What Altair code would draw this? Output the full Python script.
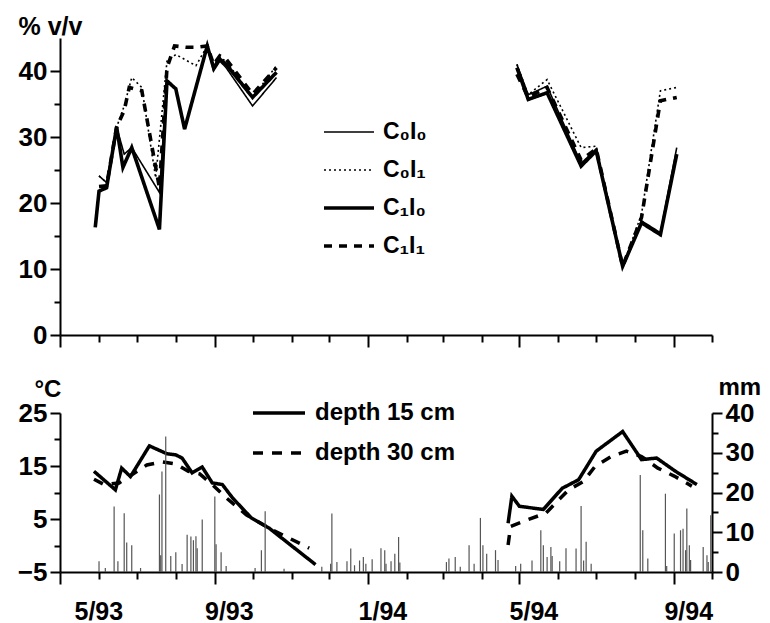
import altair as alt
import pandas as pd

FONT = "Liberation Sans"

SERIES = ["C₀I₀", "C₀I₁", "C₁I₀", "C₁I₁"]
THICK = ["C₁I₀", "C₁I₁"]

# ---- soil water content (% v/v), season 1993 ----
c0i0_93_dates = ["1993-06-01", "1993-06-07", "1993-06-15", "1993-06-21", "1993-06-27", "1993-07-19",
                 "1993-07-25", "1993-08-01", "1993-08-08", "1993-08-26", "1993-08-31", "1993-09-05",
                 "1993-09-10", "1993-10-01", "1993-10-20"]
c0i0_93_vals = [24.1, 23.1, 31.5, 27.4, 28.4, 21.6, 38.5, 37.3, 31.2, 43.8, 40.0, 41.5, 40.5, 34.7, 39.0]

c0i1_93_dates = ["1993-06-01", "1993-06-07", "1993-06-15", "1993-06-21", "1993-06-27", "1993-07-05",
                 "1993-07-16", "1993-07-25", "1993-08-01", "1993-08-17", "1993-08-26", "1993-08-31",
                 "1993-09-05", "1993-09-10", "1993-10-01", "1993-10-20"]
c0i1_93_vals = [24.1, 23.1, 31.5, 34.7, 39.0, 37.5, 23.8, 41.5, 42.5, 40.8, 43.8, 41.0, 42.0, 41.5, 36.0, 40.8]

c1i0_93_dates = ["1993-05-29", "1993-06-01", "1993-06-07", "1993-06-15", "1993-06-20", "1993-06-27",
                 "1993-07-19", "1993-07-25", "1993-08-01", "1993-08-08", "1993-08-26", "1993-08-31",
                 "1993-09-05", "1993-09-10", "1993-10-01", "1993-10-20"]
c1i0_93_vals = [16.3, 21.8, 22.3, 31.5, 25.4, 28.4, 16.0, 38.5, 37.3, 31.2, 43.8, 40.5, 41.8, 41.0, 36.0, 39.8]

c1i1_93_dates = ["1993-06-01", "1993-06-07", "1993-06-15", "1993-06-21", "1993-06-25", "1993-07-05",
                 "1993-07-19", "1993-07-25", "1993-07-31", "1993-08-09", "1993-08-18", "1993-08-26",
                 "1993-08-31", "1993-09-05", "1993-09-10", "1993-10-01", "1993-10-20"]
c1i1_93_vals = [22.5, 22.6, 31.5, 34.0, 37.5, 37.0, 22.3, 40.5, 43.8, 43.6, 43.6, 43.8, 41.0, 42.3, 41.8, 36.5, 40.5]

# ---- soil water content (% v/v), season 1994 ----
swc_94_dates = ["1994-04-29", "1994-05-08", "1994-05-23", "1994-06-19", "1994-07-01", "1994-07-22",
                "1994-08-06", "1994-08-21", "1994-09-03"]
c0i0_94_vals = [41.0, 36.4, 37.7, 26.0, 28.2, 10.4, 17.3, 15.5, 28.4]
c0i1_94_vals = [41.0, 36.4, 38.7, 28.4, 28.6, 10.4, 18.3, 37.0, 37.5]
c1i0_94_vals = [40.5, 35.7, 36.7, 25.6, 27.9, 10.4, 17.0, 15.2, 27.4]
c1i1_94_vals = [39.5, 36.0, 37.5, 26.5, 28.2, 10.4, 17.8, 35.5, 36.0]

# ---- soil temperature (°C) ----
DEPTHS = ["depth 15 cm", "depth 30 cm"]
t15_93_dates = ["1993-05-28", "1993-06-14", "1993-06-19", "1993-06-26", "1993-07-11", "1993-07-25",
                "1993-08-01", "1993-08-06", "1993-08-14", "1993-08-22", "1993-08-30", "1993-09-07",
                "1993-09-15", "1993-09-30", "1993-10-14", "1993-11-20"]
t15_93_vals = [14.0, 10.5, 14.6, 13.0, 18.8, 17.3, 17.1, 16.5, 13.7, 14.8, 11.8, 11.5, 9.0, 5.2, 3.3, -3.6]
t30_93_dates = ["1993-05-28", "1993-06-05", "1993-06-17", "1993-07-09", "1993-07-21", "1993-08-01",
                "1993-08-11", "1993-08-20", "1993-08-30", "1993-09-10", "1993-09-26", "1993-10-16",
                "1993-10-30", "1993-11-15"]
t30_93_vals = [12.5, 11.5, 11.8, 15.2, 15.8, 15.4, 14.0, 13.5, 11.5, 9.0, 5.8, 3.0, 1.4, -0.5]
t15_94_dates = ["1994-04-22", "1994-04-25", "1994-05-01", "1994-05-20", "1994-06-04", "1994-06-17",
                "1994-07-01", "1994-07-22", "1994-08-06", "1994-08-18", "1994-09-02", "1994-09-19"]
t15_94_vals = [4.2, 9.3, 7.4, 6.8, 10.8, 12.4, 17.8, 21.5, 16.2, 16.5, 14.0, 11.5]
t30_94_dates = ["1994-04-22", "1994-04-24", "1994-05-08", "1994-05-22", "1994-06-09", "1994-06-21",
                "1994-06-30", "1994-07-13", "1994-07-25", "1994-08-06", "1994-08-19", "1994-09-01",
                "1994-09-15"]
t30_94_vals = [0.1, 3.6, 4.9, 6.1, 10.5, 12.1, 14.9, 16.8, 17.8, 16.8, 14.6, 13.1, 11.2]

# ---- daily precipitation (mm) ----
rain_dates = ["1993-06-01", "1993-06-06", "1993-06-13", "1993-06-16", "1993-06-21", "1993-06-23",
              "1993-06-27", "1993-07-04", "1993-07-19", "1993-07-20", "1993-07-21", "1993-07-24",
              "1993-07-28", "1993-08-01", "1993-08-06", "1993-08-10", "1993-08-13", "1993-08-15",
              "1993-08-17", "1993-08-18", "1993-08-22", "1993-09-01", "1993-09-02", "1993-09-06",
              "1993-09-10", "1993-10-03", "1993-10-08", "1993-10-11", "1993-10-26", "1993-11-25",
              "1993-12-02", "1993-12-03", "1993-12-07", "1993-12-15", "1993-12-18", "1993-12-21",
              "1993-12-25", "1993-12-28", "1993-12-30", "1994-01-04", "1994-01-11", "1994-01-14",
              "1994-01-15", "1994-01-19", "1994-01-22", "1994-01-25", "1994-01-26", "1994-03-04",
              "1994-03-06", "1994-03-11", "1994-03-15", "1994-03-22", "1994-03-26", "1994-03-31",
              "1994-04-02", "1994-04-05", "1994-04-12", "1994-04-14", "1994-04-28", "1994-05-02",
              "1994-05-11", "1994-05-18", "1994-05-20", "1994-05-23", "1994-05-26", "1994-05-27",
              "1994-06-02", "1994-06-07", "1994-06-15", "1994-06-19", "1994-06-21", "1994-06-23",
              "1994-06-27", "1994-08-05", "1994-08-07", "1994-08-11", "1994-08-25", "1994-08-26",
              "1994-09-01", "1994-09-06", "1994-09-08", "1994-09-10", "1994-09-11", "1994-09-13",
              "1994-09-14", "1994-09-24", "1994-09-27", "1994-09-28", "1994-09-30"]
rain_mm = [2.7, 1.0, 16.5, 2.7, 14.8, 7.4, 6.7, 1.0, 19.5, 4.2, 25.3, 34.1,
           4.0, 5.0, 2.0, 9.4, 8.9, 8.0, 9.0, 6.0, 13.2, 19.0, 7.0, 5.0,
           1.5, 1.0, 5.5, 15.3, 0.8, 1.3, 2.1, 14.7, 2.5, 2.7, 5.9, 1.7,
           2.9, 3.8, 2.1, 3.2, 6.0, 5.5, 2.1, 2.7, 4.6, 8.8, 2.4, 2.5,
           3.4, 3.8, 1.3, 6.7, 2.1, 13.6, 6.7, 4.6, 5.5, 3.0, 1.5, 2.1,
           2.9, 10.5, 6.7, 3.8, 6.3, 4.0, 2.7, 6.0, 5.9, 16.6, 2.9, 7.6,
           2.1, 24.4, 10.5, 3.4, 19.7, 1.5, 9.7, 10.5, 10.9, 5.5, 16.0, 6.7,
           3.0, 6.3, 4.2, 2.5, 14.3]

# ---------------- tables ----------------
def rows(name, season, dates, vals):
    return [{"series": name, "season": season, "date": d, "value": v} for d, v in zip(dates, vals)]

swc = pd.DataFrame(
    rows(SERIES[0], "93", c0i0_93_dates, c0i0_93_vals)
    + rows(SERIES[1], "93", c0i1_93_dates, c0i1_93_vals)
    + rows(SERIES[2], "93", c1i0_93_dates, c1i0_93_vals)
    + rows(SERIES[3], "93", c1i1_93_dates, c1i1_93_vals)
    + rows(SERIES[0], "94", swc_94_dates, c0i0_94_vals)
    + rows(SERIES[1], "94", swc_94_dates, c0i1_94_vals)
    + rows(SERIES[2], "94", swc_94_dates, c1i0_94_vals)
    + rows(SERIES[3], "94", swc_94_dates, c1i1_94_vals)
)
temp = pd.DataFrame(
    rows(DEPTHS[0], "93", t15_93_dates, t15_93_vals)
    + rows(DEPTHS[1], "93", t30_93_dates, t30_93_vals)
    + rows(DEPTHS[0], "94", t15_94_dates, t15_94_vals)
    + rows(DEPTHS[1], "94", t30_94_dates, t30_94_vals)
)
rain = pd.DataFrame({"date": rain_dates, "mm": rain_mm})

W = 652
months = [alt.DateTime(year=1993 + (4 + i) // 12, month=(4 + i) % 12 + 1, date=1) for i in range(18)]
x_domain = [months[0], months[-1]]
major_test = "month(datum.value) % 4 == 0"

def x_axis(labels):
    kw = dict(
        values=months, title=None, grid=False,
        tickSize={"condition": {"test": major_test, "value": 12}, "value": 7},
    )
    if labels:
        kw.update(labelExpr=f"{major_test} ? timeFormat(datum.value, '%-m/%y') : ''",
                  labelPadding=15, labelOffset=14, labelAngle=0, labelFontSize=25)
    else:
        kw.update(labels=False)
    return alt.Axis(**kw)

thick_list = str(THICK).replace("'", '"')
thick_test = f"indexof({thick_list}, datum.series) >= 0"
thick_legend_width = f"(indexof({thick_list}, datum.value) >= 0 ? 3.5 : 1.6)"

# ---------------- top panel ----------------
top_legend = alt.Legend(
    orient="none", legendX=263, legendY=68, title=None, symbolType="stroke",
    symbolSize=2500, rowPadding=-16, labelFontSize=23, labelFont=FONT, labelFontWeight="bold",
    labelOffset=8, symbolStrokeColor="black", padding=0,
    symbolStrokeWidth={"expr": thick_legend_width},
)
top = alt.Chart(swc).mark_line(color="black").encode(
    x=alt.X("date:T", scale=alt.Scale(domain=x_domain), axis=x_axis(False)),
    y=alt.Y("value:Q", scale=alt.Scale(domain=[0, 45], nice=False),
            axis=alt.Axis(values=list(range(0, 45, 5)), grid=False, title="% v/v",
                          labelExpr="datum.value % 10 == 0 ? datum.label : ''",
                          tickSize={"condition": {"test": "datum.value % 10 == 0", "value": 10}, "value": 6},
                          titleAngle=0, titleAlign="left", titleBaseline="alphabetic",
                          titleX=-42, titleY=-4, titleFontSize=25)),
    strokeDash=alt.StrokeDash("series:N", scale=alt.Scale(domain=SERIES, range=[[1, 0], [2, 3], [1, 0], [8, 7]]),
                              legend=top_legend),
    strokeWidth=alt.condition(thick_test, alt.value(3.6), alt.value(1.6)),
    detail="season:N",
).properties(width=W, height=297)

# ---------------- bottom panel ----------------
bot_legend = alt.Legend(
    orient="none", legendX=191, legendY=-28, title=None, symbolType="stroke",
    symbolSize=2704, rowPadding=-24, labelFontSize=24, labelFont=FONT, labelFontWeight="bold",
    labelOffset=8, symbolStrokeColor="black", symbolStrokeWidth={"expr": "3.5"}, padding=0,
)
xb = alt.X("date:T", scale=alt.Scale(domain=x_domain), axis=x_axis(True))

temps = alt.Chart(temp).mark_line(color="black", strokeWidth=3.5).encode(
    x=xb,
    y=alt.Y("value:Q", scale=alt.Scale(domain=[-5, 25], nice=False),
            axis=alt.Axis(values=list(range(-5, 26, 5)), grid=False, title="°C",
                          labelExpr="(datum.value + 5) % 10 == 0 ? datum.label : ''",
                          tickSize={"condition": {"test": "(datum.value + 5) % 10 == 0", "value": 10}, "value": 6},
                          titleAngle=0, titleAlign="left", titleBaseline="alphabetic",
                          titleX=-26, titleY=-17, titleFontSize=24)),
    strokeDash=alt.StrokeDash("series:N", scale=alt.Scale(domain=DEPTHS, range=[[1, 0], [10, 9]]),
                              legend=bot_legend),
    detail="season:N",
)
bars = alt.Chart(rain).mark_rule(color="#555555", strokeWidth=1.2).encode(
    x=xb,
    y=alt.Y("mm:Q", scale=alt.Scale(domain=[0, 40], nice=False),
            axis=alt.Axis(orient="right", values=list(range(0, 41, 5)), grid=False, title="mm",
                          labelExpr="datum.value % 10 == 0 ? datum.label : ''",
                          tickSize={"condition": {"test": "datum.value % 10 == 0", "value": 10}, "value": 6},
                          titleAngle=0, titleAlign="left", titleBaseline="alphabetic",
                          titleX=6, titleY=-19, titleFontSize=24)),
    y2=alt.datum(0),
)
bottom = alt.layer(temps, bars).resolve_scale(y="independent").properties(width=W, height=159)

chart = alt.vconcat(top, bottom, spacing=27).resolve_scale(
    strokeDash="independent"
).resolve_legend(
    strokeDash="independent"
).properties(
    padding={"left": 9, "top": 6, "right": 0, "bottom": 0}
).configure_view(stroke=None).configure_axis(
    domainColor="black", domainWidth=2, tickColor="black", tickWidth=2,
    labelFont=FONT, labelFontWeight="bold", labelFontSize=26, labelColor="black", labelPadding=3,
    titleFont=FONT, titleFontWeight="bold", titleColor="black",
).configure_legend(labelColor="black")

chart.save("out.html", embed_options={"renderer": "svg", "actions": False})
